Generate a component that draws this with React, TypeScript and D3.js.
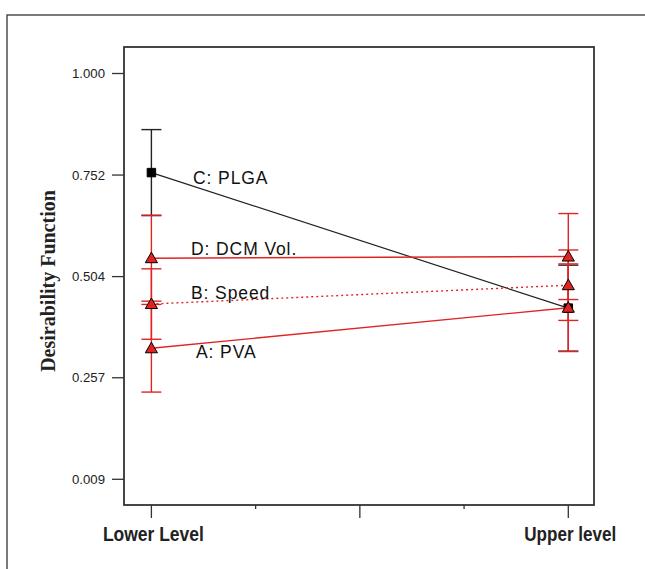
import React from 'react';
import * as d3 from 'd3';

// factor levels on the x axis (coded -1 / +1)
const levels = [-1, 1];
const levelLabels = ['Lower Level', 'Upper level'];

// desirability at lower / upper level
const factorNames = ['A: PVA', 'B: Speed', 'C: PLGA', 'D: DCM Vol.'];
const pvaValues = [0.329, 0.428];
const speedValues = [0.437, 0.483];
const plgaValues = [0.758, 0.427];
const dcmValues = [0.549, 0.553];
// half width of the LSD bars
const barHalf = [0.107, 0.086, 0.105, 0.105];

const yTicks = [0.009, 0.257, 0.504, 0.752, 1.0];
const xTicksMajor = [-1, 0, 1];
const xTicksMinor = [-0.5, 0.5];

const W = 645;
const H = 569;
const box = { left: 124, right: 594, top: 47, bottom: 505 };
const RED = '#e02424';

const x = d3.scaleLinear().domain([-1, 1]).range([151.4, 568.3]);
const y = d3.scaleLinear().domain([0.009, 1.0]).range([479.3, 73.5]);

const App = () => {
    const series = [
        { name: factorNames[0], vals: pvaValues, err: barHalf[0], color: RED, dash: null, marker: 'tri', label: [196, 357.5] },
        { name: factorNames[1], vals: speedValues, err: barHalf[1], color: RED, dash: '2,3', marker: 'tri', label: [191, 298.5] },
        { name: factorNames[2], vals: plgaValues, err: barHalf[2], color: '#222', dash: null, marker: 'sq', label: [193, 183.5] },
        { name: factorNames[3], vals: dcmValues, err: barHalf[3], color: RED, dash: null, marker: 'tri', label: [191, 254.5] },
    ];
    // black one first, red ones over it
    const order = [2, 0, 1, 3];

    const line = d3.line<number>()
        .x((d, i) => x(levels[i]))
        .y((d) => y(d));

    const tri = d3.symbol().type(d3.symbolTriangle).size(64)();
    const sq = d3.symbol().type(d3.symbolSquare).size(72)();

    return (
        <svg width={W} height={H} style={{ position: 'absolute', left: 0, top: 0, background: '#fff' }}>
            {/* outer frame */}
            <rect x={7} y={15} width={700} height={600} fill="none" stroke="#333" strokeWidth={1.3} />
            {/* plot box */}
            <rect x={box.left} y={box.top} width={box.right - box.left} height={box.bottom - box.top}
                fill="none" stroke="#333" strokeWidth={1.8} />

            {/* y axis ticks */}
            {yTicks.map((t) => (
                <g key={t}>
                    <line x1={box.left - 12} x2={box.left} y1={y(t)} y2={y(t)} stroke="#333" strokeWidth={1.3} />
                    <text x={105} y={y(t) + 4.5} textAnchor="end" fontFamily="Liberation Sans, Arial, sans-serif"
                        fontSize={12.5} textLength={33} lengthAdjust="spacingAndGlyphs" fill="#222">{t.toFixed(3)}</text>
                </g>
            ))}
            <text transform="translate(54.5,281) rotate(-90)" textAnchor="middle"
                fontFamily="Liberation Serif, Times New Roman, serif" fontWeight="bold" fontSize={20} fill="#222">
                Desirability Function
            </text>

            {/* x axis ticks */}
            {xTicksMajor.map((t) => (
                <line key={t} x1={x(t)} x2={x(t)} y1={box.bottom} y2={box.bottom + 13} stroke="#333" strokeWidth={1.3} />
            ))}
            {xTicksMinor.map((t) => (
                <line key={t} x1={x(t)} x2={x(t)} y1={box.bottom} y2={box.bottom + 4} stroke="#333" strokeWidth={1.3} />
            ))}
            {levels.map((l, i) => (
                <text key={l} x={x(l) + 2} y={541} textAnchor="middle"
                    fontFamily="Liberation Sans, Arial, sans-serif" textLength={i === 0 ? 101 : 92}
                    lengthAdjust="spacingAndGlyphs"
                    fontWeight="bold" fontSize={20} fill="#222">{levelLabels[i]}</text>
            ))}

            {/* error bars, lines, markers */}
            {order.map((k) => {
                const s = series[k];
                return (
                    <g key={s.name}>
                        {s.vals.map((v, i) => (
                            <g key={i} stroke={s.color} strokeWidth={1.4}>
                                <line x1={x(levels[i])} x2={x(levels[i])} y1={y(v - s.err)} y2={y(v + s.err)} />
                                <line x1={x(levels[i]) - 10} x2={x(levels[i]) + 10} y1={y(v - s.err)} y2={y(v - s.err)} />
                                <line x1={x(levels[i]) - 10} x2={x(levels[i]) + 10} y1={y(v + s.err)} y2={y(v + s.err)} />
                            </g>
                        ))}
                    </g>
                );
            })}
            {order.map((k) => {
                const s = series[k];
                return (
                    <g key={s.name}>
                        <path d={line(s.vals) || ''} fill="none" stroke={s.color}
                            strokeWidth={s.marker === 'sq' ? 1.2 : 1.4} strokeDasharray={s.dash || undefined} />
                        {s.vals.map((v, i) => (
                            <path key={i} d={(s.marker === 'sq' ? sq : tri) || ''}
                                transform={`translate(${x(levels[i])},${y(v) + (s.marker === 'tri' ? 1 : 0)})`}
                                fill={s.marker === 'sq' ? '#000' : RED} stroke="#000" strokeWidth={1} />
                        ))}
                        <text x={s.label[0]} y={s.label[1]} fontFamily="Liberation Sans, Arial, sans-serif"
                            fontSize={17.5} letterSpacing={0.9} fill="#111">{s.name}</text>
                    </g>
                );
            })}
        </svg>
    );
};

export default App;
